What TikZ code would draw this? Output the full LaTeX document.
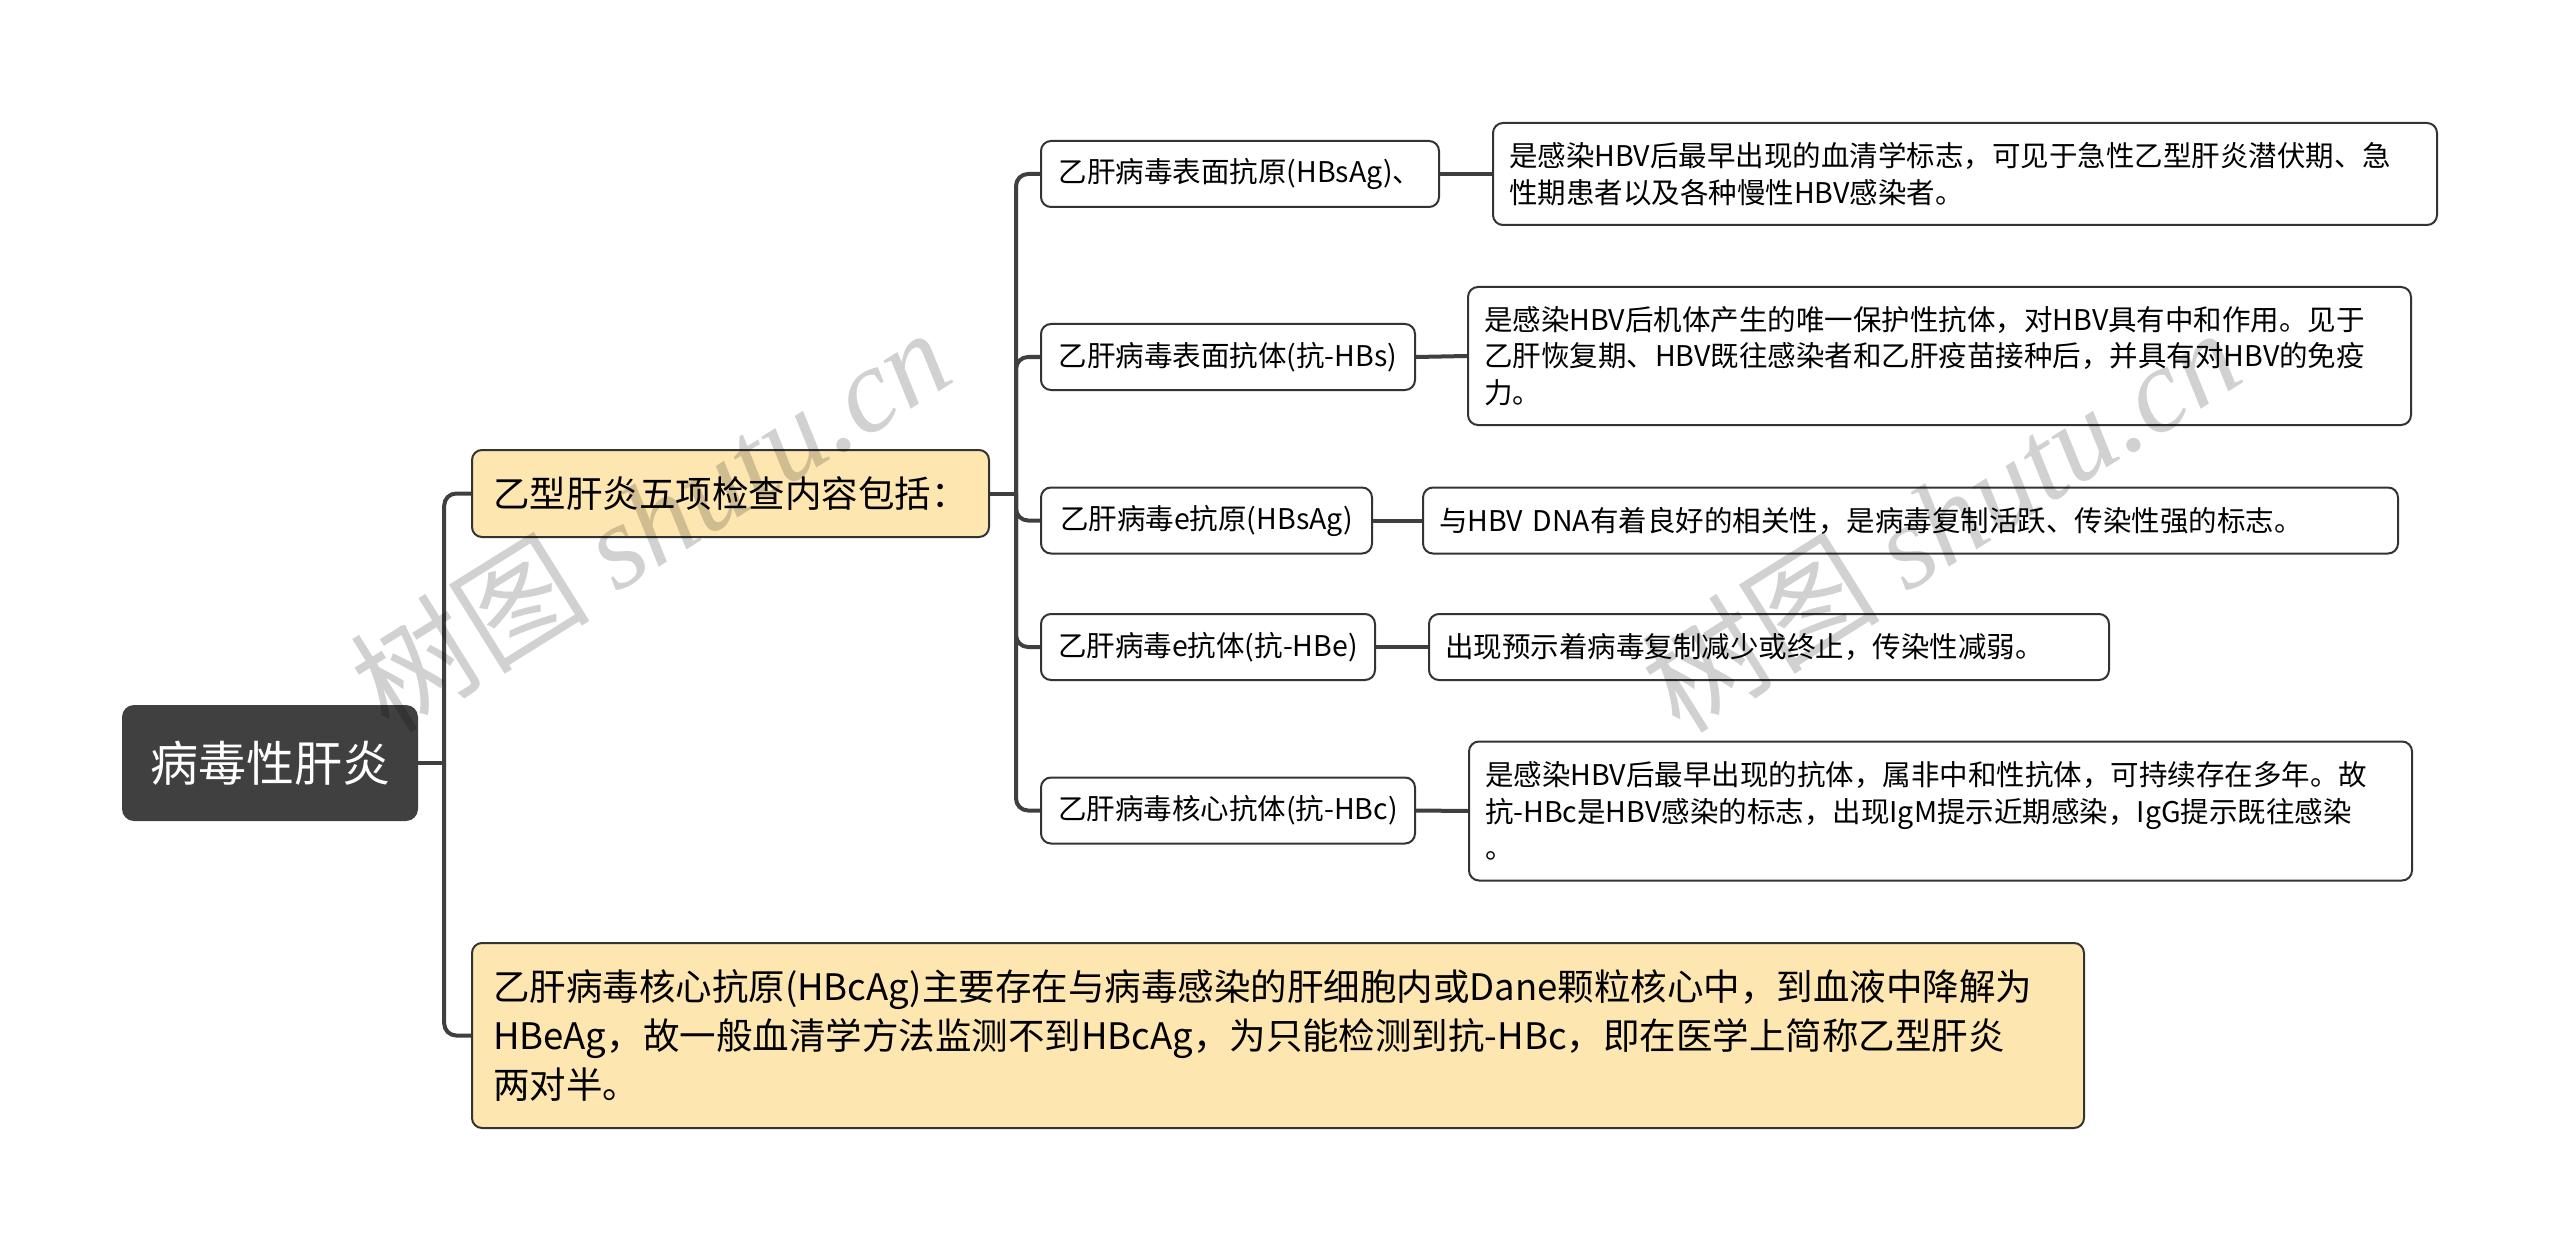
\documentclass[tikz,border=0pt]{standalone}
\usepackage{fontspec}
\newfontfamily\cjk{Noto Sans CJK SC}
\newfontfamily\wmserif{Liberation Serif}
\usetikzlibrary{calc}
\definecolor{linecol}{HTML}{3F3F3F}
\definecolor{rootfill}{HTML}{404040}
\definecolor{orangefill}{HTML}{FEE6B1}
\definecolor{bordercol}{HTML}{333333}
\begin{document}
\begin{tikzpicture}[x=1pt,y=-1pt,
  conn/.style={draw=linecol, line width=4pt, rounded corners=12pt},
  rootbox/.style={fill=rootfill, draw=none, rounded corners=12pt, text=white,
    font=\cjk\fontsize{48}{56}\selectfont, minimum width=296pt, minimum height=116pt, inner sep=0pt},
  topicbox/.style={fill=orangefill, draw=bordercol, line width=2pt, rounded corners=10pt, text=black,
    font=\cjk\fontsize{36.5}{49}\selectfont, inner xsep=21pt, inner ysep=0pt, align=left},
  subbox/.style={fill=white, draw=bordercol, line width=2pt, rounded corners=10pt, text=black,
    font=\cjk\fontsize{28.5}{36.5}\selectfont, inner xsep=16pt, inner ysep=0pt, minimum height=66pt, align=left},
  wm/.style={text=black, opacity=0.18, rotate=32, font=\fontsize{120}{130}\selectfont}
]
\fill[white] (0,0) rectangle (2560,1249);
\useasboundingbox (0,0) rectangle (2560,1249);

% root
\node[rootbox] (root) at (270,763) {病毒性肝炎};

% level 1
\node[topicbox, anchor=north west, minimum width=517pt, minimum height=87pt] (ta) at (471,449)
  {乙型肝炎五项检查内容包括：};
\node[topicbox, anchor=north west, text width=1570pt, minimum height=185pt] (tb) at (471,942)
  {乙肝病毒核心抗原(HBcAg)主要存在与病毒感染的肝细胞内或Dane颗粒核心中，到血液中降解为\\
   HBeAg，故一般血清学方法监测不到HBcAg，为只能检测到抗-HBc，即在医学上简称乙型肝炎\\
   两对半。};

% level 2
\node[subbox, anchor=west, minimum width=398pt] (n1) at (1040,174) {乙肝病毒表面抗原(HBsAg)、};
\node[subbox, anchor=west, minimum width=374pt] (n2) at (1040,357) {乙肝病毒表面抗体(抗-HBs)};
\node[subbox, anchor=west, minimum width=331pt] (n3) at (1040,520.5) {乙肝病毒e抗原(HBsAg)};
\node[subbox, anchor=west, minimum width=334pt] (n4) at (1040,647) {乙肝病毒e抗体(抗-HBe)};
\node[subbox, anchor=west, minimum width=374pt] (n5) at (1040,810.5) {乙肝病毒核心抗体(抗-HBc)};

% level 3
\node[subbox, anchor=west, text width=912pt, minimum height=102pt] (d1) at (1492,174)
  {是感染HBV后最早出现的血清学标志，可见于急性乙型肝炎潜伏期、急\\性期患者以及各种慢性HBV感染者。};
\node[subbox, anchor=west, text width=911pt, minimum height=138pt] (d2) at (1467,356)
  {是感染HBV后机体产生的唯一保护性抗体，对HBV具有中和作用。见于\\乙肝恢复期、HBV既往感染者和乙肝疫苗接种后，并具有对HBV的免疫\\力。};
\node[subbox, anchor=west, text width=943pt] (d3) at (1422,520.5)
  {与HBV DNA有着良好的相关性，是病毒复制活跃、传染性强的标志。};
\node[subbox, anchor=west, text width=648pt] (d4) at (1428,647)
  {出现预示着病毒复制减少或终止，传染性减弱。};
\node[subbox, anchor=west, text width=911pt, minimum height=139pt] (d5) at (1468,811)
  {是感染HBV后最早出现的抗体，属非中和性抗体，可持续存在多年。故\\抗-HBc是HBV感染的标志，出现IgM提示近期感染，IgG提示既往感染\\。};

% connectors
\coordinate (j1) at ($(root.east)+(26,0)$);
\coordinate (j2) at ($(ta.east)+(26,0)$);
\draw[conn] (root.east) -- (j1);
\draw[conn] (j1) |- (ta.west);
\draw[conn] (j1) |- (tb.west);
\draw[conn] (ta.east) -- (j2);
\foreach \n in {n1,n2,n3,n4,n5} { \draw[conn] (j2) |- (\n.west); }
\draw[conn] (n1.east) -- (d1.west);
\draw[conn] (n2.east) -- (d2.west);
\draw[conn] (n3.east) -- (d3.west);
\draw[conn] (n4.east) -- (d4.west);
\draw[conn] (n5.east) -- (d5.west);

% watermarks
\node[wm] (w1) at (650,519) {\cjk 树图 \wmserif\itshape shutu.cn};
\node[wm] (w2) at (1940,519) {\cjk 树图 \wmserif\itshape shutu.cn};
\end{tikzpicture}
\end{document}
